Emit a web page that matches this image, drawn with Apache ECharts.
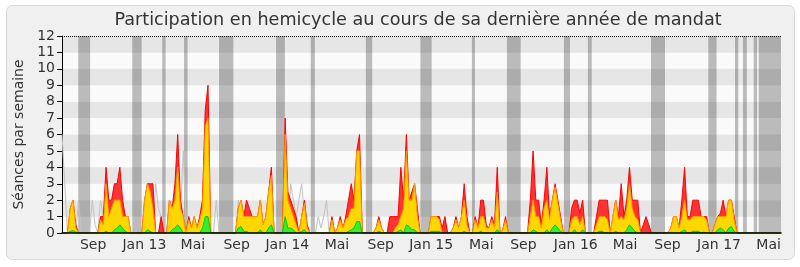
<!DOCTYPE html>
<html><head><meta charset="utf-8">
<script src="https://cdn.jsdelivr.net/npm/echarts@6/dist/echarts.min.js"></script>
<style>html,body{margin:0;padding:0;background:#fff}#c{width:800px;height:267px}</style>
</head><body><div id="c"></div>
<script>
// weekly values, week 0 = mid-June 2012
const presences = [
 0,0,0,1.5,2,0.5,0,0,0,0,
 0,0,0,0,1,1,4,2,2,3,
 3,4,2,1,1,0,0,0,0,0,
 2,3,3,3,0,0,1,0,0,2,
 1.5,3,6,2,1,0,1,0.3,1,0.3,
 1,2,7.5,9,0,0,0,0,0,0,
 0,0,0,0,1.5,2,1,2,1.5,1,
 1,1,2,0.5,1,2.5,4,0,0,0,
 0,7,2.5,2,1.5,1,0,1,2,0.5,
 0,0,0,0,0,0,0,0,1,0,
 0.3,1,0.3,1,2,3,2,5,6,0,
 0,0,0,0,0.3,1,0.3,0,0,1,
 1,1,1,4,2,6,2,2.5,3,1.5,
 0,0,0,0,1,1,1,1,0.3,1,
 0,0,0.3,1,0.3,1,3,1,0,0,
 1,0.3,2,2,0.5,0.3,1,0.5,4,0,
 0.2,1,0,0,0,0,0,0,0,0,
 2,5,2,2,0.5,2,4,1,2,3,
 2,1,0,0,0,1.5,2,2,1.2,2,
 0,0,0,0,1,2,2,2,2,0,
 1,2,1,3,1,2,4,2,2,2,
 0,0.5,1,0.5,0,0,0,0,0,0,
 0,0.3,1,1,0.3,2,4,1,1,2,
 2,2,1,1,1,0,0,0.5,1,1.2,
 2,1,2,2,1,0,0,0,0,0,
 0,0,0,0,0,0,0,0,0,0,
 0,0
];
const interventions = [
 0,0,0,1.5,2,0.3,0,0,0,0,
 0,0,0,0,0.8,0.5,3,1,1.5,2,
 2,2,1,1,1,0,0,0,0,0,
 2,3,2.5,1.5,0,0,0,0,0,2,
 1.5,2,4,1.5,1,0,0.8,0.3,1,0.3,
 0.8,1.5,6.5,7,0,0,0,0,0,0,
 0,0,0,0,1.5,2,1,1,1,1,
 1,1,2,0.5,1,2.5,3.5,0,0,0,
 0,6,2,1.5,1,0.5,0,1,1.8,0.3,
 0,0,0,0,0,0,0,0,0.8,0,
 0.3,0.8,0.3,0.8,1,1.5,1.5,5,5,0,
 0,0,0,0,0.3,0.8,0.3,0,0,0,
 0,0.3,0.5,1,1.5,5,2,2,3,1,
 0,0,0,0,1,1,1,0.8,0,0,
 0,0,0.3,0.8,0.3,1,2,0.5,0,0,
 0.8,0.3,1,1,0.3,0.3,0.8,0.3,2.5,0,
 0.2,0.8,0,0,0,0,0,0,0,0,
 1,2,1,1,0.3,1.5,2,0.8,2,2.8,
 1.8,0.8,0,0,0,0.8,1,1,0.5,1,
 0,0,0,0,0.5,1,1,1,0.8,0,
 1,2,0.8,1,0.8,1.5,3,1.5,1,0.8,
 0,0,0,0,0,0,0,0,0,0,
 0,0.3,1,1,0.3,1,2,0.8,0.8,1,
 1,1,1,1,0.8,0,0,0.5,1,1,
 1,1,2,2,0.8,0,0,0,0,0,
 0,0,0,0,0,0,0,0,0,0,
 0,0
];
const questions = [
 0,0,0,0.1,0.15,0.05,0,0,0,0,
 0,0,0,0,0,0,0.1,0,0,0.2,
 0.3,0.5,0.3,0.1,0,0,0,0,0,0,
 0,0.2,0.1,0,0,0,0,0,0,0,
 0.2,0.3,0.5,0.3,0,0,0,0,0,0,
 0,0.3,1,1,0,0,0,0,0,0,
 0,0,0,0,0.3,0.4,0.1,0.1,0,0,
 0,0,0.2,0,0,0.3,0.5,0,0,0,
 0,1,0.3,0.3,0.2,0,0,0.1,0.2,0,
 0,0,0,0,0,0,0,0,0,0,
 0,0,0,0,0.1,0.2,0.3,0.7,0.7,0,
 0,0,0,0,0,0.1,0,0,0,0,
 0,0,0.1,0.2,0,0.5,0.4,0.2,0.2,0,
 0,0,0,0,0.1,0.1,0.1,0.1,0,0,
 0,0,0,0,0,0,0.1,0,0,0,
 0,0,0.1,0,0,0,0,0,0.2,0,
 0,0,0,0,0,0,0,0,0,0,
 0,0.2,0.1,0,0,0,0.2,0,0.3,0.5,
 0.3,0.1,0,0,0,0,0.2,0,0,0.2,
 0,0,0,0,0,0.1,0.1,0,0,0,
 0,0.1,0,0,0,0.2,0.5,0.3,0.1,0,
 0,0,0,0,0,0,0,0,0,0,
 0,0,0,0,0,0.1,0.2,0,0,0.1,
 0.1,0.1,0,0.05,0,0,0,0,0.2,0.3,
 0.2,0,0.3,0.4,0.1,0,0,0,0,0,
 0,0,0,0,0,0,0,0,0,0,
 0,0
];
const mediane = [
 6,3,0,0,0,0,2,0,0,0,
 0,2,0.5,0,2,1,0,0,0,0,
 0,0,0,0,0,0,0,0,0,0,
 0,0,0,0,3,1.5,1,0,0,0,
 0,0,0,1,5,1,1,0,0,0,
 0,0,0,0,0,0,2,0,0,0,
 0,0,0,0,2,0,0,0,0,0,
 0,0,0,0,0,0,0,0,0,0,
 0,0,0,3,2,1,2,3,1,0,
 0,0,0,1,0.3,1,2,0,0,0,
 0,0,0,0,0,0,0,0,0,0,
 0,0,0,0,0,0,0,0,0,0,
 0,0,0,0,0,0,0,0,0,0,
 0,0,0,0,0,0,0,0,0,0,
 0,0,0,0,0,0,0,0,0,0,
 0,0,0,0,0,0,0,0,0,0,
 0,0,0,0,0,0,0,0,0,0,
 0,0,0,0,0,0,0,0,0,0,
 0,0,0,0,0,0,0,0,0,0,
 0,0,0,0,0,0,0,0,0,0,
 0,0,0,0,0,0,0,0,0,0,
 0,0,0,0,0,0,0,0,0,0,
 0,0,0,0,0,0,0,0,0,0,
 0,0,0,0,0,0,0,0,0,0,
 0,0,0,0,0,0,0,0,0,0,
 0,0,0,0,0,0,0,0,0,0,
 0,0
];
// parliamentary breaks (in weeks)
const vacances = [
 [5.9,10.2],[25.5,28.9],[36.4,37.6],[44.3,45.6],[57,62.2],[77.7,80.9],[90.3,91.8],
 [110.3,112.6],[130.1,134.2],[148.8,149.9],[161.5,166.5],[182.2,184.4],[190.9,192.3],
 [213.8,218.9],[234.6,237.6],[244.3,245.5],[247.2,248.6],[251.1,252.3],[252.9,261]
];
const tickWeeks = [11.3,29.9,47.5,63.4,81.8,99.8,115.7,134,152.2,167.5,186.5,204.4,219.8,238.5,256.5];
const tickLabels = ['Sep','Jan 13','Mai','Sep','Jan 14','Mai','Sep','Jan 15','Mai','Sep','Jan 16','Mai','Sep','Jan 17','Mai'];

const nWeeks = presences.length;
const toPairs = arr => arr.map((v, i) => [i, v]);
const FONT = 'DejaVu Sans';

const chart = echarts.init(document.getElementById('c'));
chart.setOption({
  animation: false,
  backgroundColor: '#ffffff',
  graphic: [{
    type: 'rect', z: -10, silent: true,
    shape: { x: 6.5, y: 5.5, width: 788, height: 254, r: 6 },
    style: { fill: '#f0f0f0', stroke: '#d9d9d9', lineWidth: 1 }
  }],
  title: {
    text: 'Participation en hemicycle au cours de sa dernière année de mandat',
    left: 413, textAlign: 'center', top: 6,
    textStyle: { fontFamily: FONT, fontSize: 17.6, fontWeight: 'normal', color: '#333' }
  },
  grid: { left: 62, right: 19, top: 36, bottom: 34 },
  xAxis: {
    type: 'value', min: 0, max: nWeeks - 1, z: 10,
    axisLine: { lineStyle: { color: '#000', width: 1.5 } },
    axisTick: { show: false },
    splitLine: { show: false },
    axisLabel: {
      customValues: tickWeeks,
      formatter: v => tickLabels[tickWeeks.indexOf(v)],
      fontFamily: FONT, fontSize: 14, color: '#333', margin: 5
    }
  },
  yAxis: {
    type: 'value', min: 0, max: 12, interval: 1,
    name: 'Séances par semaine', nameLocation: 'middle', nameGap: 36,
    nameTextStyle: { fontFamily: FONT, fontSize: 14, color: '#333' },
    axisLine: { show: true, lineStyle: { color: '#000' } },
    axisTick: { show: true, length: 5, lineStyle: { color: '#000' } },
    axisLabel: { fontFamily: FONT, fontSize: 14, color: '#333', margin: 7 },
    splitLine: { show: false },
    splitArea: { show: true, areaStyle: { color: ['#fafafa', '#e6e6e6'] } }
  },
  series: [
    {
      name: 'mediane', type: 'line', z: 2, symbol: 'none', silent: true,
      data: toPairs(mediane),
      lineStyle: { color: '#c2c2c2', width: 1 },
      markArea: {
        silent: true,
        itemStyle: { color: 'rgba(0,0,0,0.25)' },
        data: vacances.map(([a, b]) => [{ xAxis: a }, { xAxis: b }])
      },
      markLine: {
        silent: true, symbol: ['none', 'none'], label: { show: false },
        lineStyle: { color: '#000', type: 'dotted', width: 1 },
        data: [{ yAxis: 12 }]
      }
    },
    {
      name: 'presences', type: 'line', z: 3, symbol: 'none', silent: true,
      data: toPairs(presences),
      lineStyle: { color: '#ff0000', width: 1 },
      areaStyle: { color: '#ff3333', opacity: 1 }
    },
    {
      name: 'interventions', type: 'line', z: 4, symbol: 'none', silent: true,
      data: toPairs(interventions),
      lineStyle: { color: '#ff9900', width: 1 },
      areaStyle: { color: '#ffd700', opacity: 1 }
    },
    {
      name: 'questions', type: 'line', z: 5, symbol: 'none', silent: true,
      data: toPairs(questions),
      lineStyle: { color: '#00cc00', width: 1 },
      areaStyle: { color: '#33ee33', opacity: 1 }
    }
  ]
});
</script></body></html>
